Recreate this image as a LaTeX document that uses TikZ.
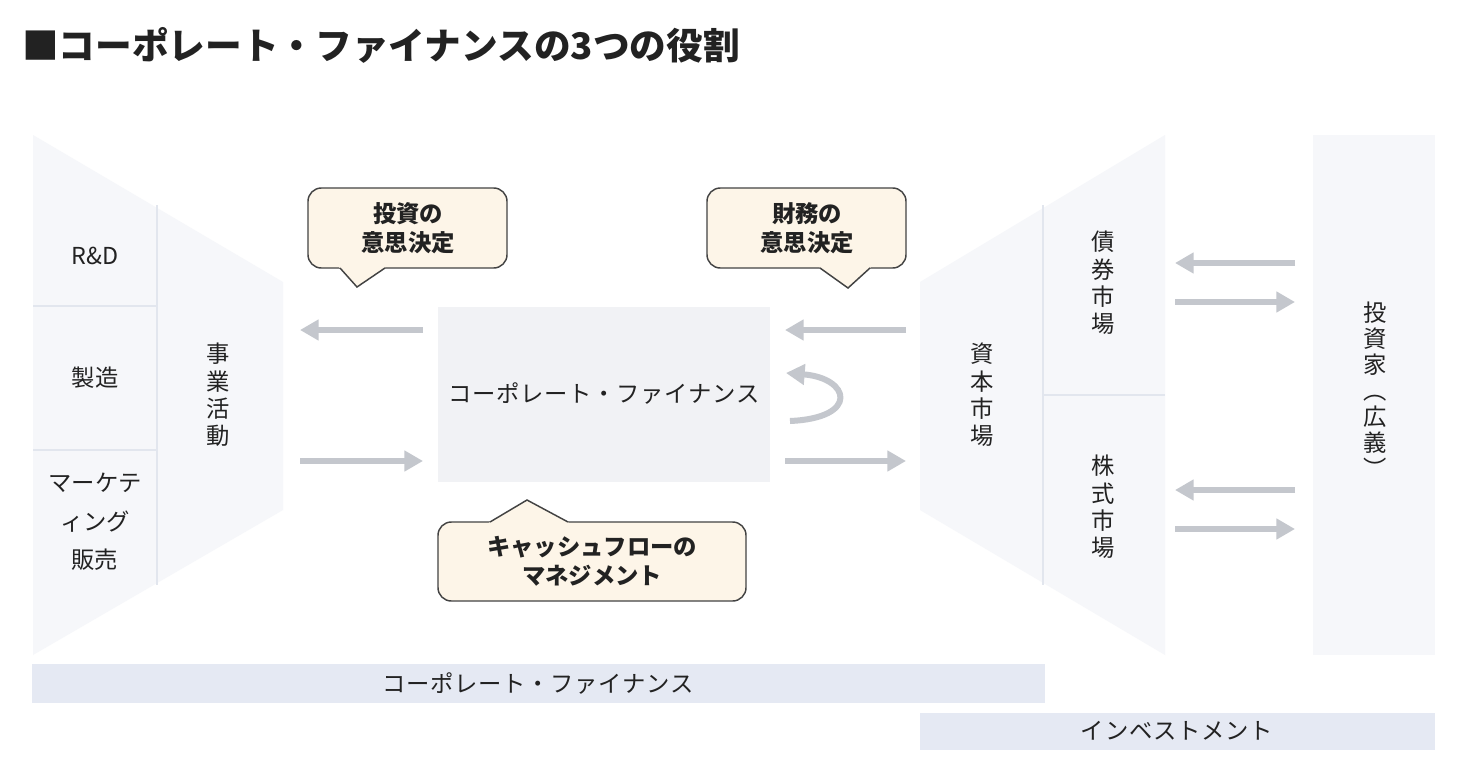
\documentclass[tikz,border=0pt]{standalone}
\usepackage{fontspec}
\setmainfont{Noto Sans CJK JP}
\usetikzlibrary{arrows.meta}
\definecolor{shp}{HTML}{F6F7FA}
\definecolor{sepl}{HTML}{E2E6EE}
\definecolor{arr}{HTML}{C4C7CD}
\definecolor{call}{HTML}{FDF5E8}
\definecolor{bar}{HTML}{E5E9F3}
\definecolor{ctr}{HTML}{F1F2F5}
\definecolor{txt}{HTML}{222222}
\begin{document}
\begin{tikzpicture}[x=0.75pt,y=-0.75pt,
  lab/.style={font=\fontsize{17.5}{20.5}\selectfont,text=txt,align=center,inner sep=0pt},
  sp/.style={font=\fontsize{17.5}{21}\selectfont\addfontfeature{LetterSpace=3},text=txt,inner sep=0pt},
  cbox/.style={draw=txt!85,line width=1.1pt,fill=call,rounded corners=10pt},
  cptr/.style={fill=call},
  cedge/.style={draw=txt!85,line width=1.1pt,line join=miter},
  ctxt/.style={font=\bfseries\fontsize{17.5}{22}\selectfont,text=txt,align=center,inner sep=0pt},
  ar/.style={draw=arr,line width=4.5pt,-{Triangle[length=14pt,width=15pt]}}]
\useasboundingbox (0,0) rectangle (1460,760);
\fill[white] (0,0) rectangle (1460,760);
\node[anchor=west,font=\bfseries\fontsize{27.5}{31}\selectfont,text=txt,inner sep=0pt] (title) at (22,45) {■コーポレート・ファイナンスの3つの役割};
% left shape
\fill[shp] (33,135) -- (283,282) -- (283,510) -- (33,655) -- cycle;
\draw[sepl,line width=1.2pt] (157,205) -- (157,585);
\draw[sepl,line width=1.2pt] (33,306) -- (157,306) (33,450) -- (157,450);
\node[lab] (rd) at (95,256) {R\&D};
\node[lab] (mfg) at (95,378) {製造};
\node[lab,font=\fontsize{17.5}{29}\selectfont] (mkt) at (95,522) {マーケテ\\ィング\\販売};
\node[lab] (biz) at (218,395) {事\\業\\活\\動};
% right shape
\fill[shp] (1165,135) -- (920,282) -- (920,510) -- (1165,655) -- cycle;
\draw[sepl,line width=1.2pt] (1043,205) -- (1043,585);
\draw[sepl,line width=1.2pt] (1043,395) -- (1165,395);
\node[lab] (cap) at (982,395) {資\\本\\市\\場};
\node[lab] (bond) at (1103,283) {債\\券\\市\\場};
\node[lab] (stock) at (1103,507) {株\\式\\市\\場};
% investors
\fill[shp] (1313,135) rectangle (1435,655);
\node[lab,font=\fontsize{17.5}{19.5}\selectfont] (inv) at (1375,390) {投\\資\\家\\︵\\広\\義\\︶};
% center
\fill[ctr] (438,307) rectangle (770,482);
\node[sp] (cf) at (604,394) {コーポレート・ファイナンス};
% callouts
\draw[cbox] (308,188) rectangle (507,268);
\fill[cptr] (338,266) -- (357,287) -- (387,266) -- cycle;
\draw[cedge] (340,268) -- (357,287) -- (385,268);
\node[ctxt] (c1) at (408,228) {投資の\\意思決定};
\draw[cbox] (707,188) rectangle (906,268);
\fill[cptr] (818,266) -- (848,288) -- (872,266) -- cycle;
\draw[cedge] (820,268) -- (848,288) -- (870,268);
\node[ctxt] (c2) at (807,228) {財務の\\意思決定};
\draw[cbox] (438,522) rectangle (746,601);
\fill[cptr] (487,524) -- (527,500) -- (571,524) -- cycle;
\draw[cedge] (490,522) -- (527,500) -- (568,522);
\node[ctxt] (c3) at (592,561) {キャッシュフローの\\マネジメント};
% arrows
\coordinate (a1) at (423,330); \coordinate (a2) at (300,330);
\coordinate (b1) at (300,461); \coordinate (b2) at (423,461);
\coordinate (d1) at (906,330); \coordinate (d2) at (785,330);
\coordinate (e1) at (785,461); \coordinate (e2) at (906,461);
\draw[ar] (a1) -- (a2);
\draw[ar] (b1) -- (b2);
\draw[ar] (d1) -- (d2);
\draw[ar] (e1) -- (e2);
\coordinate (l1) at (790,421); \coordinate (l2) at (786,373);
\draw[ar] (l1) .. controls (860,418) and (850,378) .. (l2);
\coordinate (f1) at (1295,263); \coordinate (f2) at (1175,263);
\coordinate (g1) at (1175,302); \coordinate (g2) at (1295,302);
\coordinate (h1) at (1295,490); \coordinate (h2) at (1175,490);
\coordinate (k1) at (1175,529); \coordinate (k2) at (1295,529);
\draw[ar] (f1) -- (f2);
\draw[ar] (g1) -- (g2);
\draw[ar] (h1) -- (h2);
\draw[ar] (k1) -- (k2);
% bars
\fill[bar] (32,664) rectangle (1045,703);
\node[sp] (bar1) at (538,684) {コーポレート・ファイナンス};
\fill[bar] (920,713) rectangle (1435,750);
\node[sp] (bar2) at (1177,731) {インベストメント};
\end{tikzpicture}
\end{document}
